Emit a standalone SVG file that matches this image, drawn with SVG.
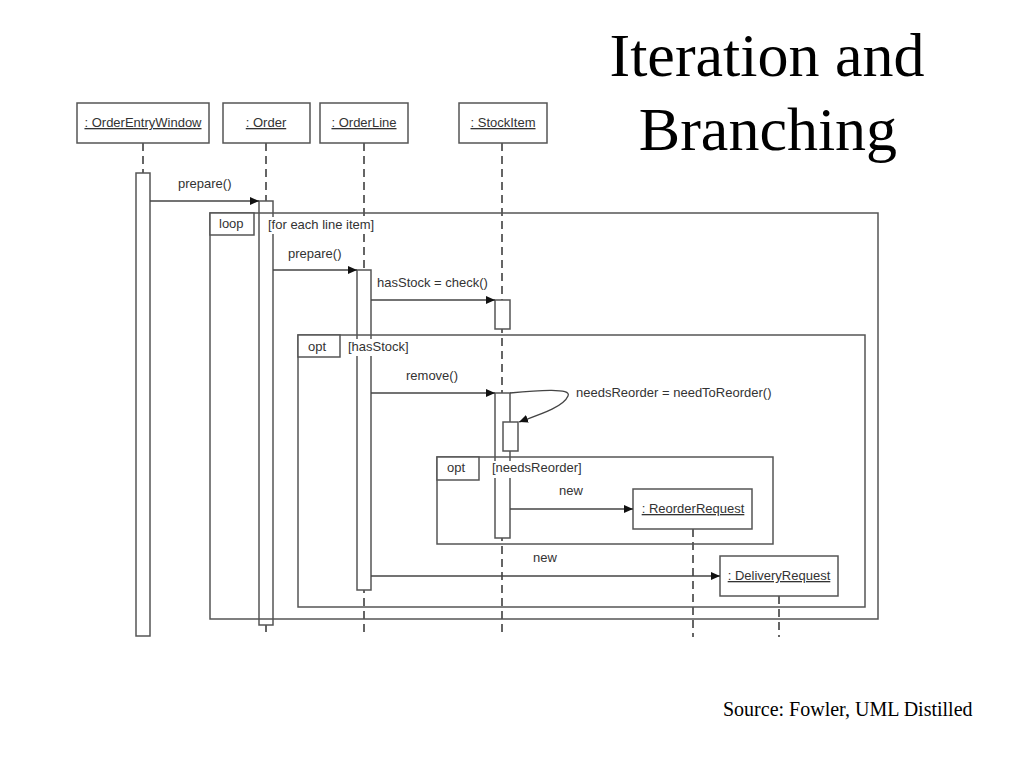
<svg xmlns="http://www.w3.org/2000/svg" width="1024" height="768" viewBox="0 0 1024 768">
<style>
.box{fill:#fff;stroke:#555;stroke-width:1.5}
.frame{fill:none;stroke:#555;stroke-width:1.5}
.tab{fill:#fff;stroke:#555;stroke-width:1.5}
.bg{fill:#fff;stroke:none}
.life{stroke:#333;stroke-width:1.5;stroke-dasharray:8 5;fill:none}
.act{fill:#fff;stroke:#555;stroke-width:1.5}
.msg{stroke:#444;stroke-width:1.3;fill:none;marker-end:url(#ah)}
.t{font-family:"Liberation Sans",Arial,sans-serif;font-size:13px;fill:#333}
.u{text-decoration:underline}
.title{font-family:"Liberation Serif","Times New Roman",serif;font-size:62px;fill:#000}
.src{font-family:"Liberation Serif","Times New Roman",serif;font-size:20px;fill:#000}
</style>
<defs>
<marker id="ah" markerWidth="10" markerHeight="8" refX="9" refY="4" orient="auto" markerUnits="userSpaceOnUse">
<path d="M0,0 L9,4 L0,8 Z" fill="#111"/>
</marker>
</defs>
<rect width="1024" height="768" fill="#fff"/>

<text class="title" x="767" y="76" text-anchor="middle">Iteration and</text>
<text class="title" x="768" y="150" text-anchor="middle">Branching</text>
<text class="src" x="723" y="716">Source: Fowler, UML Distilled</text>

<g id="lifelines">
<line class="life" x1="143" y1="143" x2="143" y2="173"/>
<line class="life" x1="266" y1="143" x2="266" y2="637"/>
<line class="life" x1="364" y1="143" x2="364" y2="637"/>
<line class="life" x1="502" y1="143" x2="502" y2="637"/>
<line class="life" x1="693" y1="529" x2="693" y2="637"/>
<line class="life" x1="779" y1="596" x2="779" y2="637"/>
</g>

<g id="n-OrderEntryWindow">
<rect class="box" x="77" y="103" width="132" height="40"/>
<text class="t u" x="143" y="127" text-anchor="middle">: OrderEntryWindow</text>
<rect class="act" x="136" y="173" width="14" height="463"/>
</g>
<g id="n-Order">
<rect class="box" x="223" y="103" width="87" height="40"/>
<text class="t u" x="266" y="127" text-anchor="middle">: Order</text>
<rect class="act" x="259" y="201" width="14" height="424"/>
</g>
<g id="n-OrderLine">
<rect class="box" x="320" y="103" width="88" height="40"/>
<text class="t u" x="364" y="127" text-anchor="middle">: OrderLine</text>
<rect class="act" x="357" y="270" width="14" height="320"/>
</g>
<g id="n-StockItem">
<rect class="box" x="459" y="103" width="88" height="40"/>
<text class="t u" x="503" y="127" text-anchor="middle">: StockItem</text>
<rect class="act" x="495" y="300" width="15" height="29"/>
<rect class="act" x="495" y="393" width="15" height="145"/>
<rect class="act" x="503" y="422" width="15" height="29"/>
</g>
<g id="n-ReorderRequest">
<rect class="box" x="633" y="489" width="119" height="40"/>
<text class="t u" x="693" y="513" text-anchor="middle">: ReorderRequest</text>
</g>
<g id="n-DeliveryRequest">
<rect class="box" x="720" y="556" width="118" height="40"/>
<text class="t u" x="779" y="580" text-anchor="middle">: DeliveryRequest</text>
</g>

<g id="frames">
<g id="loop-frame">
<rect class="frame" x="210" y="213" width="668" height="406"/>
<rect class="tab" x="210" y="213" width="44" height="22"/>
<text class="t" x="219" y="228">loop</text>
<rect class="bg" x="266" y="217" width="110" height="17"/>
<text class="t" x="268" y="229">[for each line item]</text>
</g>
<g id="opt-hasStock">
<rect class="frame" x="298" y="335" width="567" height="272"/>
<rect class="tab" x="298" y="335" width="42" height="22"/>
<text class="t" x="308" y="351">opt</text>
<rect class="bg" x="346" y="339" width="64" height="17"/>
<text class="t" x="348" y="351">[hasStock]</text>
</g>
<g id="opt-needsReorder">
<rect class="frame" x="437" y="457" width="336" height="87"/>
<rect class="tab" x="437" y="457" width="42" height="23"/>
<text class="t" x="447" y="472">opt</text>
<rect class="bg" x="490" y="461" width="94" height="17"/>
<text class="t" x="492" y="472">[needsReorder]</text>
</g>
</g>

<g id="connectors">
<line class="msg" x1="150" y1="201" x2="259" y2="201"/>
<text class="t" x="178" y="188">prepare()</text>
<line class="msg" x1="273" y1="270" x2="357" y2="270"/>
<text class="t" x="288" y="258">prepare()</text>
<line class="msg" x1="371" y1="300" x2="495" y2="300"/>
<text class="t" x="377" y="287">hasStock = check()</text>
<line class="msg" x1="371" y1="393" x2="495" y2="393"/>
<text class="t" x="406" y="380">remove()</text>
<path class="msg" d="M510,393 C540,390 572,388 568,396 C563,408 535,416 519,422"/>
<text class="t" x="576" y="397">needsReorder = needToReorder()</text>
<line class="msg" x1="510" y1="509" x2="633" y2="509"/>
<text class="t" x="559" y="495">new</text>
<line class="msg" x1="371" y1="576" x2="720" y2="576"/>
<text class="t" x="533" y="562">new</text>
</g>
</svg>
